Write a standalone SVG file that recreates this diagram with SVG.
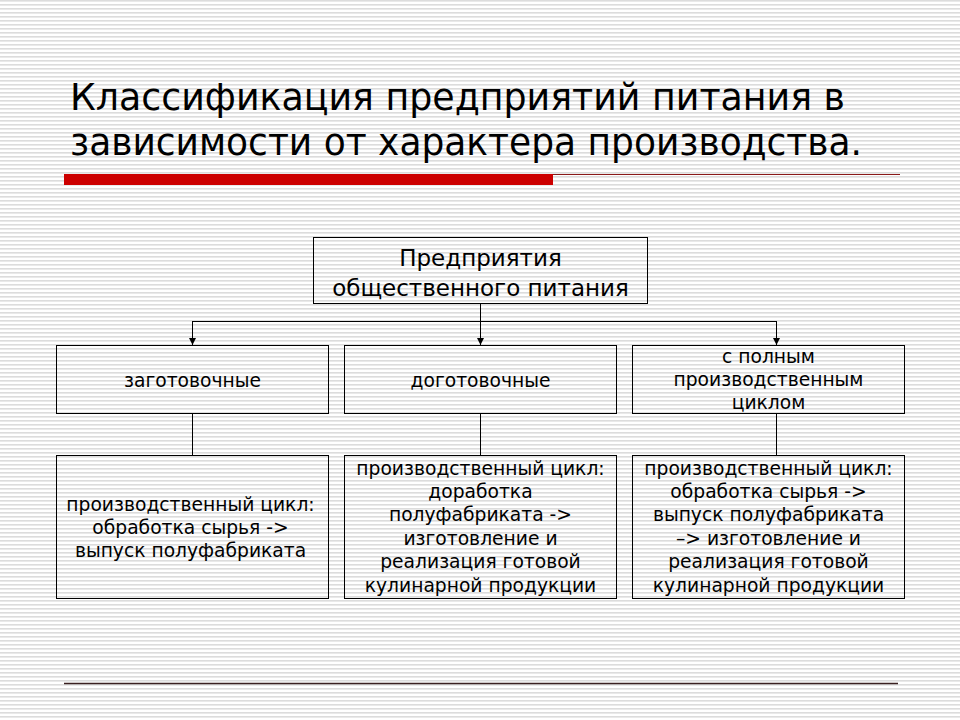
<svg xmlns="http://www.w3.org/2000/svg" width="960" height="720" viewBox="0 0 960 720">
<defs>
<pattern id="stripes" width="8" height="4" patternUnits="userSpaceOnUse">
<rect width="8" height="4" fill="#ffffff"/>
<rect y="0" width="8" height="1.6" fill="#dcdcdc"/>
</pattern>
<marker id="arr" viewBox="0 0 10 10" refX="10" refY="5" markerWidth="7" markerHeight="7" markerUnits="userSpaceOnUse" orient="auto">
<path d="M0,0 L10,5 L0,10 z" fill="#000"/>
</marker>
</defs>
<style>
.box{fill:none;stroke:#000;stroke-width:1}
.t{font-family:"DejaVu Sans",Verdana,sans-serif;fill:#000;text-anchor:middle}
.title{font-family:"DejaVu Sans",Verdana,sans-serif;fill:#000;font-size:37px}
.s{font-size:18.7px}
.m{font-size:23px}
.c{fill:none;stroke:#000;stroke-width:1}
</style>
<rect width="960" height="720" fill="url(#stripes)"/>
<g id="title">
<text class="title" x="70" y="110" textLength="775" lengthAdjust="spacingAndGlyphs">Классификация предприятий питания в</text>
<text class="title" x="70" y="155" textLength="792" lengthAdjust="spacingAndGlyphs">зависимости от характера производства.</text>
<rect x="64" y="174" width="489" height="11" fill="#cc0000"/>
<line x1="553" y1="174.5" x2="900" y2="174.5" stroke="#8b1a1a" stroke-width="1"/>
<line x1="64" y1="683.5" x2="898" y2="683.5" stroke="#3a2020" stroke-width="1.3"/>
</g>
<g id="connectors">
<line class="c" x1="480.5" y1="303" x2="480.5" y2="345" marker-end="url(#arr)"/>
<line class="c" x1="192.5" y1="321.5" x2="776.5" y2="321.5"/>
<line class="c" x1="192.5" y1="321" x2="192.5" y2="345" marker-end="url(#arr)"/>
<line class="c" x1="776.5" y1="321" x2="776.5" y2="345" marker-end="url(#arr)"/>
<line class="c" x1="192.5" y1="413" x2="192.5" y2="455"/>
<line class="c" x1="480.5" y1="413" x2="480.5" y2="455"/>
<line class="c" x1="776.5" y1="413" x2="776.5" y2="455"/>
</g>
<g id="root">
<rect class="box" x="313.5" y="237.5" width="334" height="66"/>
<text class="t m" x="480.5" y="266">Предприятия</text>
<text class="t m" x="480.5" y="296">общественного питания</text>
</g>
<g id="zag">
<rect class="box" x="56.5" y="345.5" width="272" height="68"/>
<text class="t s" x="192.5" y="387">заготовочные</text>
</g>
<g id="dog">
<rect class="box" x="344.5" y="345.5" width="272" height="68"/>
<text class="t s" x="480.5" y="387">доготовочные</text>
</g>
<g id="full">
<rect class="box" x="632.5" y="345.5" width="272" height="68"/>
<text class="t s" x="768.5" y="363">с полным</text>
<text class="t s" x="768.5" y="386">производственным</text>
<text class="t s" x="768.5" y="409">циклом</text>
</g>
<g id="zag-desc">
<rect class="box" x="56.5" y="455.5" width="272" height="143"/>
<text class="t s" x="190.5" y="511">производственный цикл:</text>
<text class="t s" x="190.5" y="534">обработка сырья -&gt;</text>
<text class="t s" x="190.5" y="557">выпуск полуфабриката</text>
</g>
<g id="dog-desc">
<rect class="box" x="344.5" y="455.5" width="272" height="143"/>
<text class="t s" x="480.5" y="475">производственный цикл:</text>
<text class="t s" x="480.5" y="498">доработка</text>
<text class="t s" x="480.5" y="521">полуфабриката -&gt;</text>
<text class="t s" x="480.5" y="545">изготовление и</text>
<text class="t s" x="480.5" y="568">реализация готовой</text>
<text class="t s" x="480.5" y="592">кулинарной продукции</text>
</g>
<g id="full-desc">
<rect class="box" x="632.5" y="455.5" width="272" height="143"/>
<text class="t s" x="768.5" y="475">производственный цикл:</text>
<text class="t s" x="768.5" y="498">обработка сырья -&gt;</text>
<text class="t s" x="768.5" y="521">выпуск полуфабриката</text>
<text class="t s" x="768.5" y="545">–&gt; изготовление и</text>
<text class="t s" x="768.5" y="568">реализация готовой</text>
<text class="t s" x="768.5" y="592">кулинарной продукции</text>
</g>
</svg>
